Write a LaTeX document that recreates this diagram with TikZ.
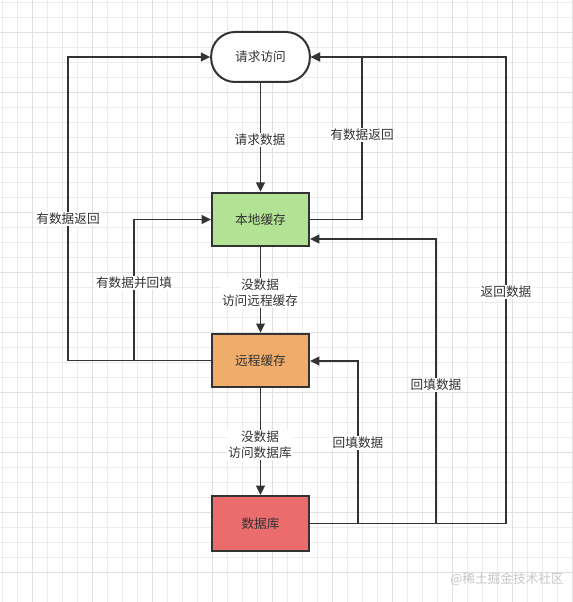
\documentclass[tikz,border=0pt]{standalone}
\usepackage{fontspec}
\setmainfont{Noto Sans CJK SC}
\usetikzlibrary{arrows.meta}

\definecolor{gridgray}{RGB}{236,236,236}
\definecolor{gridmajor}{RGB}{224,224,224}
\definecolor{inkgray}{RGB}{51,51,51}
\definecolor{localgreen}{RGB}{178,226,148}
\definecolor{remoteorange}{RGB}{240,172,106}
\definecolor{dbred}{RGB}{234,108,108}

\tikzset{
  box/.style={draw=inkgray, line width=1.5pt, minimum width=72.75pt, minimum height=40pt,
    font=\fontsize{9.5pt}{11pt}\selectfont, text=inkgray},
  startbox/.style={box, rounded corners=18pt, fill=white, minimum height=37.5pt, minimum width=74pt},
  flow/.style={draw=inkgray, line width=1.4pt, -{Triangle[length=7pt,width=6.5pt]}},
  elabel/.style={fill=white, inner sep=1pt, font=\fontsize{9.5pt}{12pt}\selectfont, text=inkgray, align=center}
}

\begin{document}
\begin{tikzpicture}[x=0.75pt,y=-0.75pt]
  \useasboundingbox (0,0) rectangle (572,602);
  \fill[white] (0,0) rectangle (572,602);
  % grid
  \foreach \k in {0,...,38} {
    \draw[gridgray, line width=0.6pt] (2+15*\k,0) -- (2+15*\k,602);
    \draw[gridgray, line width=0.6pt] (0,2+15*\k) -- (572,2+15*\k);
  }
  \foreach \k in {0,...,9} {
    \draw[gridmajor, line width=0.6pt] (32+60*\k,0) -- (32+60*\k,602);
    \draw[gridmajor, line width=0.6pt] (0,32+60*\k) -- (572,32+60*\k);
  }

  % nodes
  \node[startbox] (ask) at (260.5,57) {请求访问};
  \node[box, fill=localgreen] (local) at (260.5,219.5) {本地缓存};
  \node[box, fill=remoteorange] (remote) at (260.5,360.5) {远程缓存};
  \node[box, fill=dbred, minimum height=41.25pt] (db) at (260.5,523.5) {数据库};

  % bends
  \coordinate (ra) at (362,57);
  \coordinate (la) at (68,57);
  \coordinate (lb) at (134,219.5);
  \coordinate (rc) at (506,57);
  \coordinate (rd) at (436,239);
  \coordinate (re) at (358,361);

  % connectors
  \draw[flow] (ask) -- (local);
  \draw[flow] (local) -- (remote);
  \draw[flow] (remote) -- (db);
  \draw[flow] (local.east) -| (ra) -- (ask.east);
  \draw[flow] (remote.west) -| (la) -- (ask.west);
  \draw[flow] (remote.west -| lb) -- (lb) -- (local.west);
  \draw[flow] (db.east) -| (rc) -- (ask.east);
  \draw[flow] (db.east -| rd) -- (rd) -- (rd -| local.east);
  \draw[flow] (db.east -| re) -- (re) -- (re -| remote.east);

  % labels
  \node[elabel] (l1) at (260,140) {请求数据};
  \node[elabel] (l2) at (362,135) {有数据返回};
  \node[elabel] (l3) at (68,219) {有数据返回};
  \node[elabel] (l4) at (134,283) {有数据并回填};
  \node[elabel] (l5) at (260,293) {没数据\\访问远程缓存};
  \node[elabel] (l6) at (260,445) {没数据\\访问数据库};
  \node[elabel] (l7) at (358,443) {回填数据};
  \node[elabel] (l8) at (436,385) {回填数据};
  \node[elabel] (l9) at (506,292) {返回数据};

  % watermark
  \node[text=black!22, font=\fontsize{9.5pt}{11pt}\selectfont, inner sep=0pt] (mark) at (507,579) {@稀土掘金技术社区};
\end{tikzpicture}
\end{document}
